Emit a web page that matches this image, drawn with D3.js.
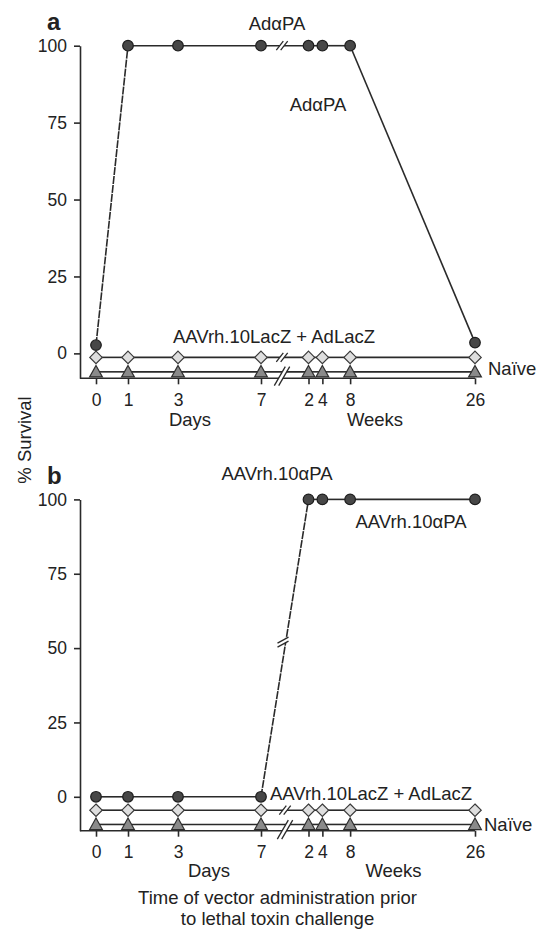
<!DOCTYPE html>
<html>
<head>
<meta charset="utf-8">
<script src="https://cdn.jsdelivr.net/npm/d3@7"></script>
<style>
  html, body { margin: 0; padding: 0; background: #fff; }
  svg { display: block; font-family: "Liberation Sans", Arial, Helvetica, sans-serif; }
</style>
</head>
<body>
<svg id="chart" width="545" height="929"></svg>
<script>
// ---------- data ----------
const xLabels = ["0", "1", "3", "7", "2", "4", "8", "26"];
const xDays = [0, 1, 3, 7, 14, 28, 56, 182];   // weeks converted to days
const unitLabels = ["Days", "Weeks"];
const yTicks = [0, 25, 50, 75, 100];

// panel a (values as plotted, offset for visibility)
const adPA   = [2.7, 100, 100, 100, 100, 100, 100, 3.5];
const lacZA  = [-1.3, -1.3, -1.3, -1.3, -1.3, -1.3, -1.3, -1.3];
const naiveA = [-6.0, -6.0, -6.0, -6.0, -6.0, -6.0, -6.0, -6.0];

// panel b
const aavPA  = [0, 0, 0, 0, 100, 100, 100, 100];
const lacZB  = [-4.5, -4.5, -4.5, -4.5, -4.5, -4.5, -4.5, -4.5];
const naiveB = [-9.3, -9.3, -9.3, -9.3, -9.3, -9.3, -9.3, -9.3];

// ---------- layout ----------
const svg = d3.select("#chart");
const axisX = 80;
const ink = "#2a2a2a";
const FONT = 18.5;

// broken / non-uniform time axis
const x = d3.scaleLinear()
  .domain([0, 1, 3, 7, 14, 182])
  .range([96, 128, 178, 261, 308.5, 475]);
const breakX = 282;

function drawBreak(g, cx, cy, w, h, d) {
  g.append("polygon")
    .attr("points", [[cx - w - d, cy + h], [cx + w - d, cy - h], [cx + w + d, cy - h], [cx - w + d, cy + h]].map(p => p.join(",")).join(" "))
    .attr("fill", "#fff");
  [-d, d].forEach(o => {
    g.append("line")
      .attr("x1", cx - w + o).attr("y1", cy + h)
      .attr("x2", cx + w + o).attr("y2", cy - h)
      .attr("stroke", ink).attr("stroke-width", 1.3);
  });
}

function drawBreakV(g, cx, cy, w, h, d) {
  g.append("polygon")
    .attr("points", [[cx - w, cy + h - d], [cx + w, cy - h - d], [cx + w, cy - h + d], [cx - w, cy + h + d]].map(p => p.join(",")).join(" "))
    .attr("fill", "#fff");
  [-d, d].forEach(o => {
    g.append("line")
      .attr("x1", cx - w).attr("y1", cy + h + o)
      .attr("x2", cx + w).attr("y2", cy - h + o)
      .attr("stroke", ink).attr("stroke-width", 1.3);
  });
}

function panel(opts) {
  const g = svg.append("g");
  const y = d3.scaleLinear().domain([opts.yMin, 100]).range([opts.bottom, opts.top]);
  const yb = opts.bottom;

  const ya = g.append("g").attr("transform", `translate(${axisX},0)`)
    .call(d3.axisLeft(y).tickValues(yTicks).tickSize(6).tickSizeOuter(0).tickPadding(7));
  ya.select(".domain").attr("stroke", ink).attr("stroke-width", 1.6);
  ya.selectAll(".tick line").attr("stroke", ink).attr("stroke-width", 1.6);
  ya.selectAll(".tick text").attr("font-size", 17.5).attr("fill", "#222")
    .attr("font-family", "Liberation Sans, Arial, sans-serif");

  const xa = g.append("g").attr("transform", `translate(0,${yb})`)
    .call(d3.axisBottom(x).tickValues(xDays).tickFormat((d, i) => xLabels[i]).tickSize(6).tickPadding(9));
  xa.select(".domain").remove();
  xa.append("line").attr("x1", axisX).attr("x2", x(xDays[xDays.length - 1]))
    .attr("y1", 0).attr("y2", 0).attr("stroke", ink).attr("stroke-width", 1.6);
  xa.selectAll(".tick line").attr("stroke", ink).attr("stroke-width", 1.6);
  xa.selectAll(".tick text").attr("font-size", 17.5).attr("fill", "#222")
    .attr("font-family", "Liberation Sans, Arial, sans-serif");

  g.append("text").attr("x", opts.daysX).attr("y", opts.unitY).attr("text-anchor", "middle")
    .attr("font-size", FONT).attr("fill", "#222").text(unitLabels[0]);
  g.append("text").attr("x", opts.weeksX).attr("y", opts.unitY).attr("text-anchor", "middle")
    .attr("font-size", FONT).attr("fill", "#222").text(unitLabels[1]);

  const series = opts.series;
  series.forEach(s => {
    for (let i = 0; i < s.values.length - 1; i++) {
      const rising = s.values[i + 1] > s.values[i];
      g.append("line")
        .attr("x1", x(xDays[i])).attr("y1", y(s.values[i]))
        .attr("x2", x(xDays[i + 1])).attr("y2", y(s.values[i + 1]))
        .attr("stroke", ink).attr("stroke-width", 1.6)
        .attr("stroke-dasharray", rising ? "8,1" : null);
    }
  });

  opts.breaks(g, y);

  series.forEach(s => {
    const m = g.append("g");
    s.values.forEach((v, i) => {
      const cx = x(xDays[i]), cy = y(v);
      if (s.shape === "circle") {
        m.append("circle").attr("cx", cx).attr("cy", cy).attr("r", 5.3)
          .attr("fill", "#474747").attr("stroke", "#1e1e1e").attr("stroke-width", 1.2);
      } else if (s.shape === "diamond") {
        const r = 6.2;
        m.append("path").attr("d", `M${cx},${cy - r}L${cx + r},${cy}L${cx},${cy + r}L${cx - r},${cy}Z`)
          .attr("fill", "#dedede").attr("stroke", "#3a3a3a").attr("stroke-width", 1.2);
      } else {
        const r = 6.4;
        m.append("path").attr("d", `M${cx},${cy - r}L${cx + r},${cy + r * 0.8}L${cx - r},${cy + r * 0.8}Z`)
          .attr("fill", "#8a8a8a").attr("stroke", "#2e2e2e").attr("stroke-width", 1.2);
      }
    });
  });

  opts.labels.forEach(l => {
    g.append("text").attr("x", l.x).attr("y", l.y).attr("text-anchor", l.anchor || "middle")
      .attr("font-size", FONT).attr("fill", "#222").text(l.text);
  });
  g.append("text").attr("x", 47).attr("y", opts.letterY).attr("font-size", 24)
    .attr("font-weight", "bold").attr("fill", "#222").text(opts.letter);
  return y;
}

panel({
  letter: "a", letterY: 29.5,
  top: 45.7, bottom: 378.3, yMin: -8.1,
  unitY: 426, daysX: 190, weeksX: 375,
  series: [
    { values: adPA, shape: "circle" },
    { values: lacZA, shape: "diamond" },
    { values: naiveA, shape: "triangle" }
  ],
  breaks: (g, y) => {
    drawBreak(g, breakX, y(100), 3.5, 4.5, 2.2);
    drawBreak(g, breakX, y(lacZA[0]), 3.5, 4.5, 2.2);
    drawBreak(g, breakX, (y(naiveA[0]) + 378.3) / 2 + 1, 5.5, 9.5, 2.2);
  },
  labels: [
    { text: "AdαPA", x: 277, y: 30 },
    { text: "AdαPA", x: 318, y: 110.5 },
    { text: "AAVrh.10LacZ + AdLacZ", x: 274, y: 342.5 },
    { text: "Naïve", x: 488, y: 374.5, anchor: "start" }
  ]
});

panel({
  letter: "b", letterY: 484,
  top: 499.4, bottom: 830.7, yMin: -11.4,
  unitY: 877, daysX: 209, weeksX: 393.5,
  series: [
    { values: aavPA, shape: "circle" },
    { values: lacZB, shape: "diamond" },
    { values: naiveB, shape: "triangle" }
  ],
  breaks: (g, y) => {
    drawBreakV(g, breakX + 1, y(50) - 6, 5.5, 3, 2);
    drawBreak(g, breakX + 3, y(lacZB[0]), 3.5, 4.5, 2.2);
    drawBreak(g, breakX + 3, (y(naiveB[0]) + 830.7) / 2 + 2, 5.5, 9.5, 2.2);
  },
  labels: [
    { text: "AAVrh.10αPA", x: 277, y: 479.5 },
    { text: "AAVrh.10αPA", x: 411, y: 528 },
    { text: "AAVrh.10LacZ + AdLacZ", x: 270, y: 799.5, anchor: "start" },
    { text: "Naïve", x: 484, y: 830.5, anchor: "start" }
  ]
});

svg.append("text")
  .attr("transform", "translate(30.5,440) rotate(-90)")
  .attr("text-anchor", "middle").attr("font-size", FONT).attr("fill", "#222")
  .text("% Survival");

svg.append("text").attr("x", 277.5).attr("y", 904).attr("text-anchor", "middle")
  .attr("font-size", FONT).attr("fill", "#222").text("Time of vector administration prior");
svg.append("text").attr("x", 277.5).attr("y", 925).attr("text-anchor", "middle")
  .attr("font-size", FONT).attr("fill", "#222").text("to lethal toxin challenge");
</script>
</body>
</html>
